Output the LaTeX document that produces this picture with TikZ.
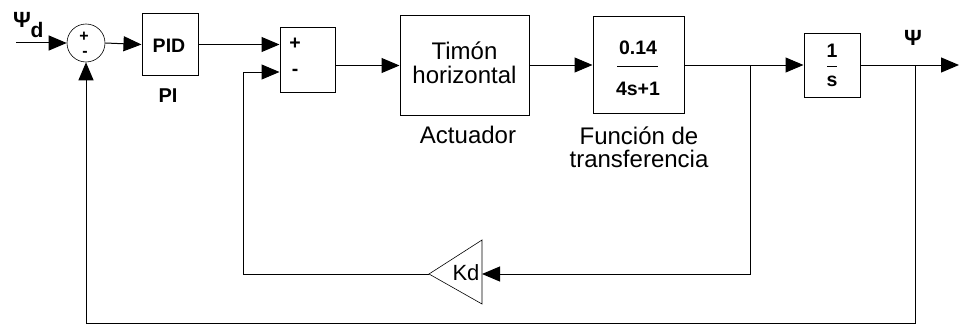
\documentclass[tikz,border=0pt]{standalone}
\usepackage{fontspec}
\setmainfont{Liberation Sans}
\usetikzlibrary{arrows.meta}
\tikzset{
  blk/.style={draw, line width=1pt, inner sep=0pt, rectangle},
  lbl/.style={inner sep=0pt, font=\fontsize{24}{26}\selectfont},
  blbl/.style={inner sep=0pt, font=\fontsize{19.5}{22}\selectfont\bfseries},
  sbl/.style={inner sep=0pt, font=\fontsize{16}{18}\selectfont\bfseries},
  wire/.style={line width=1pt},
  arr/.style={line width=1pt, -{Triangle[length=18pt,width=15pt]}}
}
\begin{document}
\begin{tikzpicture}[x=1pt,y=-1pt]
\useasboundingbox (0,0) rectangle (960,329);
% blocks
\node[draw, circle, line width=0.6pt, minimum size=38pt, inner sep=0pt] (s1) at (86,43) {};
\node[sbl] (s1p) at (84,36.5) {+};
\node[sbl] (s1m) at (85,54) {-};
\node[blk, minimum width=56pt, minimum height=61pt] (pid) at (170,44.5) {};
\node[blbl] (pidt) at (169,46) {PID};
\node[blbl, font=\fontsize{20}{22}\selectfont\bfseries] (pit) at (168,96) {PI};
\node[blk, minimum width=55pt, minimum height=64pt] (sum2) at (307.5,60) {};
\node[blbl] (s2p) at (295,44) {+};
\node[blbl] (s2m) at (295,72) {-};
\node[blk, minimum width=129pt, minimum height=99pt] (tim) at (464.5,65.5) {};
\node[lbl, align=center] (timt) at (464.5,63) {Timón\\[-2pt]horizontal};
\node[lbl] (act) at (468,135) {Actuador};
\node[blk, minimum width=91pt, minimum height=96pt] (tf) at (638.5,65) {};
\node[blbl] (num) at (638,48) {0.14};
\node[blbl] (den) at (638,89) {4s+1};
\draw[line width=1pt] (617,66) -- (658,66);
\node[lbl, align=center] (tft) at (639,147) {Función de\\[-3pt]transferencia};
\node[blk, minimum width=56pt, minimum height=63pt] (int) at (832,65.5) {};
\node[blbl] (one) at (832,51) {1};
\node[blbl] (ess) at (832,81) {s};
\draw[line width=1pt] (827,66) -- (837,66);
% labels
\node[inner sep=0pt, font=\fontsize{22}{24}\selectfont\bfseries] (psid) at (22,20) {Ψ};
\node[inner sep=0pt, font=\fontsize{21}{24}\selectfont\bfseries] (dsub) at (37,30) {d};
\node[inner sep=0pt, font=\fontsize{22}{24}\selectfont\bfseries] (psi) at (913,38) {Ψ};
% Kd triangle
\coordinate (kdT) at (429,274);
\coordinate (kdR) at (482,274);
\draw[line width=0.6pt] (kdT) -- (482,240) -- (482,304) -- cycle;
\node[lbl, font=\fontsize{22}{24}\selectfont] (kd) at (466,273) {Kd};
% coordinates
\coordinate (in) at (16,43);
\coordinate (b1) at (750,65);
\coordinate (b2) at (915,65);
\coordinate (out) at (959,65);
\coordinate (c1) at (243,72);
\coordinate (bot) at (915,323);
% connectors
\draw[arr] (in) -- (s1.west);
\draw[arr] (s1.east) -- (pid.west);
\draw[arr] (pid.east) -- (pid.east -| sum2.west);
\draw[arr] (sum2.east |- tim.west) -- (tim.west);
\draw[arr] (tim.east |- tf.west) -- (tf.west);
\draw[arr] (tf.east) -- (int.west |- tf.east);
\draw[arr] (int.east |- b2) -- (out);
\draw[arr] (b1) |- (kdR);
\draw[arr] (kdT) -| (c1) -- (sum2.west |- c1);
\draw[arr] (b2) -- (bot) -| (s1.south);
\end{tikzpicture}
\end{document}
